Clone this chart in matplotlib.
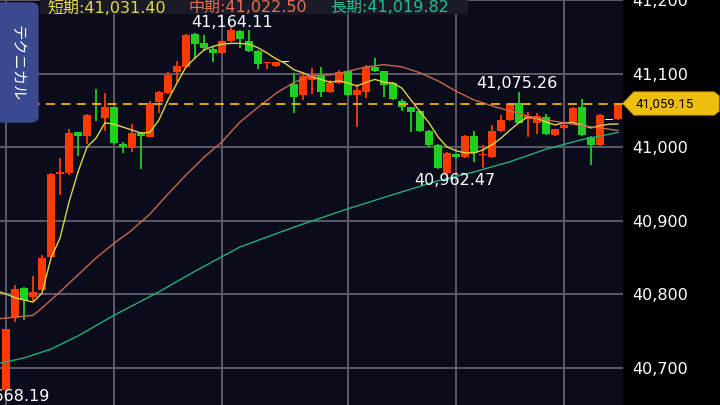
import numpy as np
import matplotlib.pyplot as plt
from matplotlib.patches import Polygon, FancyBboxPatch, Rectangle

# 5-minute candles (k = 0..68)
opens = [40669, 40768, 40808, 40796, 40805, 40850, 40963, 40965, 41020, 41015,
         41060, 41039, 41054, 41004, 40999, 41019, 41014, 41061, 41073, 41102,
         41109, 41154, 41141, 41133, 41128, 41144, 41158, 41144, 41131, 41114,
         41110, 41116, 41086, 41071, 41091, 41097, 41075, 41087, 41103, 41071,
         41075, 41109, 41103, 41087, 41063, 41054, 41049, 41022, 41003, 40965,
         40990, 40986, 41015, 40989, 40986, 41022, 41037, 41060, 41038, 41033,
         41041, 41016, 41026, 41033, 41054, 41014, 41003, 41037, 41038]
highs = [40752, 40812, 40810, 40824, 40853, 40964, 40985, 41024, 41021, 41045,
         41079, 41073, 41055, 41007, 41031, 41020, 41063, 41076, 41102, 41117,
         41154, 41155, 41152, 41136, 41145, 41164.11, 41159, 41159, 41132, 41116,
         41116, 41116, 41101, 41101, 41107, 41109, 41091, 41105, 41104, 41086,
         41112, 41121, 41104, 41088, 41065, 41055, 41050, 41023, 41004, 40993,
         40991, 41016, 41022, 41003, 41030, 41044, 41060, 41075.26, 41048, 41046,
         41045, 41025, 41031, 41054, 41065, 41015, 41045, 41037, 41060]
lows = [40668.19, 40762, 40765, 40790, 40805, 40849, 40935, 40962, 40988, 41004,
        41035, 41022, 41004, 40992, 40993, 40970, 41013, 41046, 41072, 41088,
        41108, 41120, 41131, 41116, 41127, 41143, 41135, 41129, 41106, 41106,
        41109, 41116, 41046, 41064, 41072, 41068, 41074, 41086, 41070, 41027,
        41067, 41102, 41068, 41064, 41049, 41020, 41021, 41000, 40970, 40962.47,
        40985, 40985, 40980, 40971, 40985, 41021, 41036, 41032, 41014, 41018,
        41017, 41015, 41025, 41032, 41015, 40976, 41002, 41037, 41037]
closes = [40752, 40807, 40792, 40803, 40849, 40963, 40966, 41019, 41015, 41044,
          41058, 41054, 41005, 41000, 41019, 41015, 41060, 41075, 41098, 41110,
          41152, 41140, 41135, 41128, 41144, 41159, 41147, 41131, 41113, 41116,
          41116, 41116, 41068, 41097, 41097, 41075, 41087, 41102, 41071, 41078,
          41109, 41103, 41084, 41065, 41054, 41048, 41022, 41003, 40971, 40992,
          40986, 41015, 40992, 40990, 41022, 41037, 41059, 41033, 41042, 41042,
          41018, 41024, 41030, 41053, 41016, 41003, 41044, 41037, 41059.15]

# moving averages (short: every candle from k=-1)
ma_short = [40804, 40800, 40795, 40792, 40789, 40801, 40849, 40876, 40925, 40966,
            41000, 41012, 41033, 41031, 41027, 41023, 41019, 41020, 41037, 41064,
            41087, 41109, 41121, 41132, 41137, 41140, 41141, 41141, 41140, 41135,
            41128, 41120, 41114, 41105, 41101, 41095, 41092, 41088, 41090, 41087,
            41083, 41088, 41092, 41088, 41087, 41080, 41064, 41048, 41033, 41014,
            41000, 40995, 40992, 40992, 40996, 41003, 41012, 41023, 41033, 41041,
            41039, 41034, 41030, 41033, 41033, 41030, 41026, 41029, 41031, 41031.40]
mid_idx = [-1, 3, 4, 6, 8, 10, 12, 14, 16, 18, 20, 22, 24, 26, 28, 30, 32, 34,
           36, 38, 40, 42, 44, 46, 48, 50, 52, 54, 56, 58, 60, 62, 64, 66, 68]
ma_mid = [40766, 40771, 40781, 40803, 40826, 40849, 40869, 40887, 40909, 40936,
          40962, 40986, 41007, 41034, 41054, 41073, 41088, 41097, 41098, 41103,
          41109, 41112, 41109, 41101, 41090, 41076, 41064, 41056, 41049, 41042,
          41037, 41033, 41029, 41026, 41022.50]
long_idx = [-1, 2, 5, 8, 12, 17, 21, 26, 32, 38, 44, 48, 52, 56, 60, 64, 68]
ma_long = [40705, 40713, 40725, 40743, 40771, 40803, 40831, 40864, 40891,
           40916, 40939, 40954, 40966, 40980, 40997, 41010, 41019.82]

yticks = [40700, 40800, 40900, 41000, 41100, 41200]
vgrid = [0, 12, 24, 38, 50, 62]

UP = '#ff3a00'
DOWN = '#1fd01f'
BG = '#0a0b1b'

W, H = 720, 405
fig = plt.figure(figsize=(7.2, 4.05), dpi=100, facecolor='black')
ax = fig.add_axes([0, 0, 623 / W, 1])
ax.set_facecolor(BG)

k = np.arange(len(opens))
o = np.array(opens); c = np.array(closes)
hi = np.array(highs); lo = np.array(lows)

cols = []
for a, b in zip(o, c):
    if b > a:
        cols.append(UP)
    elif b < a:
        cols.append(DOWN)
    else:
        cols.append('#e8e8e8')

for g in vgrid:
    ax.axvline(g, color='#5c5c66', lw=1.4, zorder=1)
for t in yticks:
    ax.axhline(t, color='#5c5c66', lw=1.4, zorder=1)

ax.vlines(k, lo, hi, colors=cols, lw=1.3, zorder=3)
body = np.maximum(np.abs(c - o), 1.6)
ax.bar(k, body, bottom=np.minimum(o, c), width=0.88, color=cols, zorder=4)

ax.plot(np.arange(-1, len(opens)), ma_short, color='#dcd448', lw=1.0, zorder=5)
ax.plot(mid_idx, ma_mid, color='#c8684e', lw=1.0, zorder=5)
ax.plot(long_idx, ma_long, color='#1fae7e', lw=1.0, zorder=5)

last = closes[-1]
ax.axhline(last, color='#f0b400', lw=1.3, dashes=(5, 3.5), zorder=6)

num_font = ['DejaVu Sans']
ax.set_xlim(-0.667, 68.56)
ax.set_ylim(40649, 41200)
ax.set_xticks([])
ax.yaxis.tick_right()
ax.set_yticks(yticks)
ax.set_yticklabels([f'{t:,}' for t in yticks])
ax.tick_params(axis='y', length=0, pad=6.5, labelsize=11.5, labelcolor='white')
for lb in ax.get_yticklabels():
    lb.set_fontfamily(num_font)
    lb.set_horizontalalignment('left')
for s in ax.spines.values():
    s.set_visible(False)

ax.text(25.1, 41169, '41,164.11', color='white', fontsize=11.5, family=num_font,
        ha='center', va='center', zorder=7)
ax.text(56.8, 41086, '41,075.26', color='white', fontsize=11.5, family=num_font,
        ha='center', va='center', zorder=7)
ax.text(49.9, 40954, '40,962.47', color='white', fontsize=11.5, family=num_font,
        ha='center', va='center', zorder=7)
ax.text(4.9, 40660, '40,668.19', color='white', fontsize=11.5, family=num_font,
        ha='right', va='center', zorder=7, clip_on=True)


def px(x, y):
    return x / W, 1 - y / H


# header band and moving-average readout
fig.patches.append(Rectangle(px(40, 13), 427 / W, 13 / H, transform=fig.transFigure,
                             color='#1a1b26', zorder=8))
jp = ['DejaVu Sans', 'Noto Sans CJK JP']
fig.text(*px(47, 8), '短期:41,031.40', color='#e6da4c', fontsize=11.5, family=jp,
         va='center', zorder=9)
fig.text(*px(188, 8), '中期:41,022.50', color='#e8704c', fontsize=11.5, family=jp,
         va='center', zorder=9)
fig.text(*px(330, 8), '長期:41,019.82', color='#22c090', fontsize=11.5, family=jp,
         va='center', zorder=9)

# side tab
fig.patches.append(FancyBboxPatch(px(-12, 122), 50 / W, 119 / H,
                                  boxstyle='round,pad=0,rounding_size=0.012',
                                  transform=fig.transFigure, color='#3b4a8e', zorder=8))
fig.text(*px(17, 63), 'テクニカル', color='white', fontsize=11, family=['Noto Sans CJK JP'],
         rotation=-90, ha='center', va='center', zorder=9)

# last price tag
tag = [px(623, 103.5), px(634, 92), px(714, 92), px(719, 96), px(719, 111),
       px(714, 115), px(634, 115)]
fig.patches.append(Polygon(tag, closed=True, transform=fig.transFigure,
                           facecolor='#f0bf0c', edgecolor='#d9a800', lw=0.8, zorder=8))
fig.text(*px(636, 104), f'{last:,.2f}', color='black', fontsize=9.5,
         family=['Roboto', 'DejaVu Sans'], va='center', zorder=9)

fig.savefig('out.png', dpi=100, facecolor='black')
